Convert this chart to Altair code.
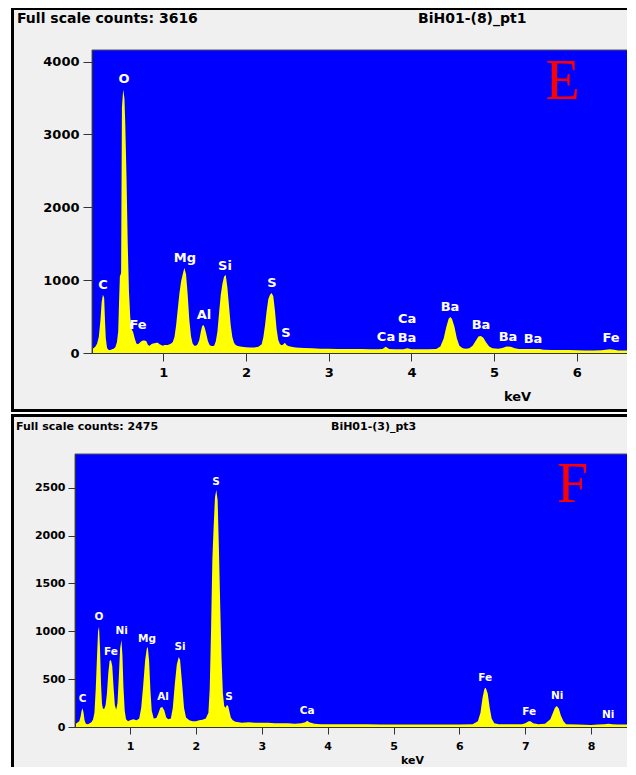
import altair as alt
import pandas as pd

FONT = "DejaVu Sans"

# ---------------- Spectrum E : BiH01-(8)_pt1 ----------------
e_title = "BiH01-(8)_pt1"
e_full_scale = 3616
e_kev = [0.14, 0.16, 0.18, 0.20, 0.22, 0.24, 0.255, 0.27, 0.285, 0.295,
         0.305, 0.32, 0.34, 0.36, 0.38, 0.40, 0.42, 0.44, 0.455, 0.465,
         0.475, 0.49, 0.50, 0.515, 0.53, 0.54, 0.555, 0.57, 0.585, 0.60,
         0.615, 0.635, 0.655, 0.675, 0.695, 0.715, 0.735, 0.755, 0.775, 0.795,
         0.815, 0.835, 0.855, 0.875, 0.895, 0.915, 0.935, 0.955, 0.975, 0.995,
         1.015, 1.035, 1.055, 1.075, 1.095, 1.115, 1.135, 1.155, 1.175, 1.195,
         1.215, 1.235, 1.255, 1.275, 1.295, 1.315, 1.335, 1.355, 1.375, 1.395,
         1.415, 1.435, 1.455, 1.47, 1.485, 1.50, 1.52, 1.54, 1.56, 1.58,
         1.60, 1.615, 1.635, 1.655, 1.675, 1.695, 1.715, 1.735, 1.755, 1.775,
         1.795, 1.815, 1.835, 1.855, 1.875, 1.90, 1.95, 2.00, 2.05, 2.10,
         2.15, 2.19, 2.21, 2.23, 2.25, 2.27, 2.29, 2.31, 2.33, 2.35,
         2.37, 2.39, 2.41, 2.43, 2.45, 2.47, 2.49, 2.51, 2.55, 2.60,
         2.70, 2.80, 2.90, 3.00, 3.10, 3.20, 3.30, 3.40, 3.50, 3.60,
         3.65, 3.69, 3.73, 3.80, 3.90, 3.95, 4.00, 4.10, 4.20, 4.30,
         4.35, 4.39, 4.42, 4.45, 4.47, 4.49, 4.52, 4.55, 4.58, 4.62,
         4.66, 4.70, 4.74, 4.78, 4.81, 4.84, 4.87, 4.90, 4.94, 4.98,
         5.05, 5.10, 5.15, 5.20, 5.25, 5.30, 5.40, 5.50, 5.55, 5.60,
         5.70, 5.80, 5.90, 6.00, 6.10, 6.20, 6.30, 6.40, 6.45, 6.50,
         6.60, 6.667]
e_counts = [60, 70, 90, 130, 220, 450, 700, 800, 760, 450,
            200, 70, 40, 40, 50, 60, 80, 150, 300, 700,
            1050, 1100, 3370, 3616, 3500, 3160, 2420, 1500, 845, 500,
            330, 290, 200, 130, 120, 140, 160, 170, 170, 160,
            110, 100, 120, 130, 135, 140, 140, 120, 110, 100,
            110, 110, 110, 120, 130, 150, 220, 380, 600, 820,
            980, 1080, 1170, 1080, 800, 450, 230, 130, 100, 100,
            120, 180, 300, 370, 385, 350, 260, 160, 110, 95,
            95, 100, 160, 300, 560, 800, 950, 1050, 1070, 900,
            640, 380, 220, 140, 110, 95, 85, 80, 75, 75,
            85, 120, 220, 380, 580, 740, 800, 825, 780, 580,
            330, 180, 125, 105, 115, 140, 110, 95, 85, 75,
            70, 65, 60, 58, 55, 55, 55, 55, 50, 52,
            55, 85, 55, 50, 50, 65, 52, 50, 52, 55,
            90, 200, 350, 470, 495, 470, 360, 200, 100, 65,
            60, 65, 100, 170, 225, 235, 210, 150, 90, 65,
            60, 70, 90, 85, 65, 55, 55, 55, 55, 45,
            42, 40, 40, 38, 36, 35, 38, 50, 45, 35,
            35, 35]
e_lab_text = ["C", "O", "Fe", "Mg", "Al", "Si", "S", "S", "Ca", "Ca", "Ba", "Ba", "Ba", "Ba", "Ba", "Fe"]
e_lab_kev = [0.271, 0.525, 0.694, 1.262, 1.492, 1.746, 2.314, 2.483, 3.693, 3.947, 3.947,
             4.467, 4.842, 5.168, 5.470, 6.413]
e_lab_counts = [937, 3763, 388, 1307, 525, 1198, 964, 278, 223, 471, 210, 635, 388, 223, 196, 210]
e_letter = "E"
e_letter_kev = 5.827
e_letter_counts = 3488
e_x_domain = [0.138, 6.667]
e_y_domain = [0, 4160]
e_x_ticks = [1, 2, 3, 4, 5, 6]
e_y_ticks = [0, 1000, 2000, 3000, 4000]

# ---------------- Spectrum F : BiH01-(3)_pt3 ----------------
f_title = "BiH01-(3)_pt3"
f_full_scale = 2475
f_kev = [0.165, 0.19, 0.21, 0.23, 0.25, 0.265, 0.28, 0.295, 0.31, 0.33,
         0.36, 0.39, 0.42, 0.44, 0.46, 0.48, 0.50, 0.515, 0.53, 0.545,
         0.56, 0.575, 0.59, 0.61, 0.63, 0.65, 0.67, 0.69, 0.71, 0.73,
         0.75, 0.77, 0.79, 0.81, 0.83, 0.85, 0.87, 0.885, 0.90, 0.92,
         0.94, 0.97, 1.00, 1.05, 1.10, 1.14, 1.17, 1.20, 1.23, 1.255,
         1.27, 1.29, 1.31, 1.33, 1.36, 1.40, 1.43, 1.46, 1.49, 1.52,
         1.55, 1.58, 1.62, 1.65, 1.68, 1.71, 1.74, 1.76, 1.79, 1.82,
         1.85, 1.90, 1.95, 2.00, 2.05, 2.10, 2.15, 2.19, 2.21, 2.23,
         2.25, 2.27, 2.29, 2.31, 2.33, 2.35, 2.37, 2.39, 2.41, 2.43,
         2.45, 2.47, 2.49, 2.51, 2.53, 2.56, 2.60, 2.70, 2.80, 2.90,
         3.00, 3.10, 3.20, 3.30, 3.40, 3.50, 3.60, 3.66, 3.69, 3.72,
         3.80, 3.90, 4.00, 4.20, 4.40, 4.60, 4.80, 5.00, 5.20, 5.40,
         5.60, 5.80, 6.00, 6.20, 6.28, 6.32, 6.35, 6.38, 6.40, 6.43,
         6.46, 6.49, 6.53, 6.60, 6.80, 6.95, 7.00, 7.05, 7.08, 7.12,
         7.20, 7.30, 7.38, 7.42, 7.45, 7.48, 7.51, 7.54, 7.58, 7.62,
         7.80, 8.00, 8.10, 8.20, 8.26, 8.32, 8.40, 8.62]
f_counts = [30, 40, 50, 60, 110, 170, 195, 150, 70, 35,
            30, 40, 55, 80, 150, 400, 750, 1000, 1046, 820,
            450, 240, 190, 190, 230, 350, 560, 690, 700, 640,
            420, 230, 180, 250, 520, 820, 910, 750, 420, 170,
            80, 60, 70, 80, 70, 90, 200, 430, 700, 820,
            835, 690, 380, 170, 90, 95, 140, 200, 210, 175,
            100, 80, 90, 200, 450, 650, 730, 700, 460, 200,
            100, 70, 60, 60, 70, 75, 90, 150, 400, 1000,
            1750, 2100, 2400, 2475, 2370, 1850, 1250, 700, 350, 220,
            200, 230, 220, 160, 100, 70, 55, 45, 50, 45,
            45, 45, 40, 40, 38, 35, 40, 50, 65, 50,
            35, 30, 30, 30, 28, 28, 27, 26, 27, 26,
            25, 27, 27, 30, 60, 150, 300, 400, 411, 350,
            200, 90, 40, 30, 28, 30, 40, 60, 60, 40,
            30, 35, 80, 150, 200, 220, 190, 120, 60, 30,
            25, 22, 25, 30, 33, 30, 25, 25]
f_lab_text = ["C", "O", "Fe", "Ni", "Mg", "Al", "Si", "S", "S", "Ca", "Fe", "Fe", "Ni", "Ni"]
f_lab_kev = [0.282, 0.529, 0.711, 0.874, 1.258, 1.501, 1.759, 2.306, 2.503, 3.688,
             6.39, 7.058, 7.483, 8.258]
f_lab_counts = [290, 1147, 781, 1001, 917, 311, 834, 2560, 311, 164, 509, 154, 321, 122]
f_letter = "F"
f_letter_kev = 7.719
f_letter_counts = 2350
f_x_domain = [0.165, 8.62]
f_y_domain = [0, 2852]
f_x_ticks = [1, 2, 3, 4, 5, 6, 7, 8]
f_y_ticks = [0, 500, 1000, 1500, 2000, 2500]


def panel(kev, counts, lab_text, lab_kev, lab_counts, letter, letter_kev, letter_counts,
          full_scale, name, xdom, ydom, xticks, yticks, g):
    spec = pd.DataFrame({"kev": kev, "counts": counts})
    labs = pd.DataFrame({"kev": lab_kev, "counts": lab_counts, "lab": lab_text})
    let = pd.DataFrame({"kev": [letter_kev], "counts": [letter_counts], "lab": [letter]})
    one = pd.DataFrame({"k": [0]})

    x = alt.X("kev:Q", title="keV",
              scale=alt.Scale(domain=xdom, range=g["xrange"], nice=False, zero=False),
              axis=alt.Axis(values=xticks, format="d", grid=False, tickSize=g["xtick"],
                            labelPadding=g["xlabpad"], labelFont=FONT, labelFontWeight="bold",
                            labelFontSize=g["tickfs"], labelColor="black", tickColor="#333333",
                            domainColor="#333333", titleFont=FONT, titleFontWeight="bold",
                            titleFontSize=g["titlefs"], titleColor="black", titleX=g["titleX"],
                            titleY=g["titleY"], titleAlign="center", titleBaseline="middle",
                            zindex=1, labelOverlap=False, labelFlush=False))
    y = alt.Y("counts:Q", title=None,
              scale=alt.Scale(domain=ydom, nice=False, zero=True),
              axis=alt.Axis(values=yticks, format="d", grid=False, tickSize=g["ytick"],
                            labelPadding=g["ylabpad"], labelFont=FONT, labelFontWeight="bold",
                            labelFontSize=g["tickfs"], labelColor="black", tickColor="#333333",
                            domainColor="#333333", offset=g["yoffset"], zindex=1,
                            labelOverlap=False, labelFlush=False))

    frame_black = alt.Chart(one).mark_rect(color="black").encode(
        x=alt.value(g["frame"][0]), x2=alt.value(g["frame"][1]),
        y=alt.value(g["frame"][2]), y2=alt.value(g["frame"][3]))
    frame_gray = alt.Chart(one).mark_rect(color="#f0f0f0").encode(
        x=alt.value(g["inner"][0]), x2=alt.value(g["inner"][1]),
        y=alt.value(g["inner"][2]), y2=alt.value(g["inner"][3]))
    plot_bg = alt.Chart(one).mark_rect(fill="#0000ff", stroke="#555555", strokeWidth=1).encode(
        x=alt.value(g["xrange"][0]), x2=alt.value(g["xrange"][1]),
        y=alt.value(0), y2=alt.value(g["height"]))
    hdr_left = alt.Chart(one).mark_text(
        align="left", baseline="middle", font=FONT, fontWeight="bold",
        fontSize=g["hdrfs"], color="black").encode(
        x=alt.value(g["hdr_left"][0]), y=alt.value(g["hdr_left"][1]),
        text=alt.value(f"Full scale counts: {full_scale}"))
    hdr_mid = alt.Chart(one).mark_text(
        align="left", baseline="middle", font=FONT, fontWeight="bold",
        fontSize=g["hdrfs"], color="black").encode(
        x=alt.value(g["hdr_mid"][0]), y=alt.value(g["hdr_mid"][1]),
        text=alt.value(name))
    area = alt.Chart(spec).mark_area(color="#ffff00", opacity=1).encode(x=x, y=y)
    labels = alt.Chart(labs).mark_text(
        align="center", baseline="middle", font=FONT, fontWeight="bold",
        fontSize=g["labfs"], color="white").encode(x=x, y=y, text="lab:N")
    letter_mark = alt.Chart(let).mark_text(
        align="center", baseline="alphabetic", font="Liberation Serif",
        fontSize=56, color="#ff0000").encode(x=x, y=y, text="lab:N")

    return alt.layer(frame_black, frame_gray, plot_bg, hdr_left, hdr_mid,
                     area, labels, letter_mark).properties(width=g["width"], height=g["height"])


geo_e = dict(xrange=[17, 557], width=557, height=303, yoffset=-17,
             frame=[-64, 560, -42, 362], inner=[-61, 557, -40, 359],
             hdr_left=[-58, -31], hdr_mid=[343, -31], hdrfs=14,
             ytick=9, ylabpad=4, xtick=8, xlabpad=5, tickfs=13, titlefs=13,
             titleX=442, titleY=43, labfs=13)
geo_f = dict(xrange=[0, 557], width=557, height=273, yoffset=0,
             frame=[-64, 560, -40, 330], inner=[-61, 557, -37, 330],
             hdr_left=[-59, -27], hdr_mid=[256, -27], hdrfs=11,
             ytick=7, ylabpad=3, xtick=7, xlabpad=6, tickfs=11, titlefs=11,
             titleX=337, titleY=33, labfs=10.5)

chart_e = panel(e_kev, e_counts, e_lab_text, e_lab_kev, e_lab_counts, e_letter, e_letter_kev,
                e_letter_counts, e_full_scale, e_title, e_x_domain, e_y_domain,
                e_x_ticks, e_y_ticks, geo_e)
chart_f = panel(f_kev, f_counts, f_lab_text, f_lab_kev, f_lab_counts, f_letter, f_letter_kev,
                f_letter_counts, f_full_scale, f_title, f_x_domain, f_y_domain,
                f_x_ticks, f_y_ticks, geo_f)

# negative right/bottom padding trims the frame so the page never overflows the window
chart = alt.vconcat(chart_e, chart_f, spacing=101, bounds="flush").properties(
    padding={"left": 3, "top": 0, "right": -8, "bottom": -17}
).configure_view(stroke=None)

chart.save("out.html", embed_options={"renderer": "svg", "actions": False})
